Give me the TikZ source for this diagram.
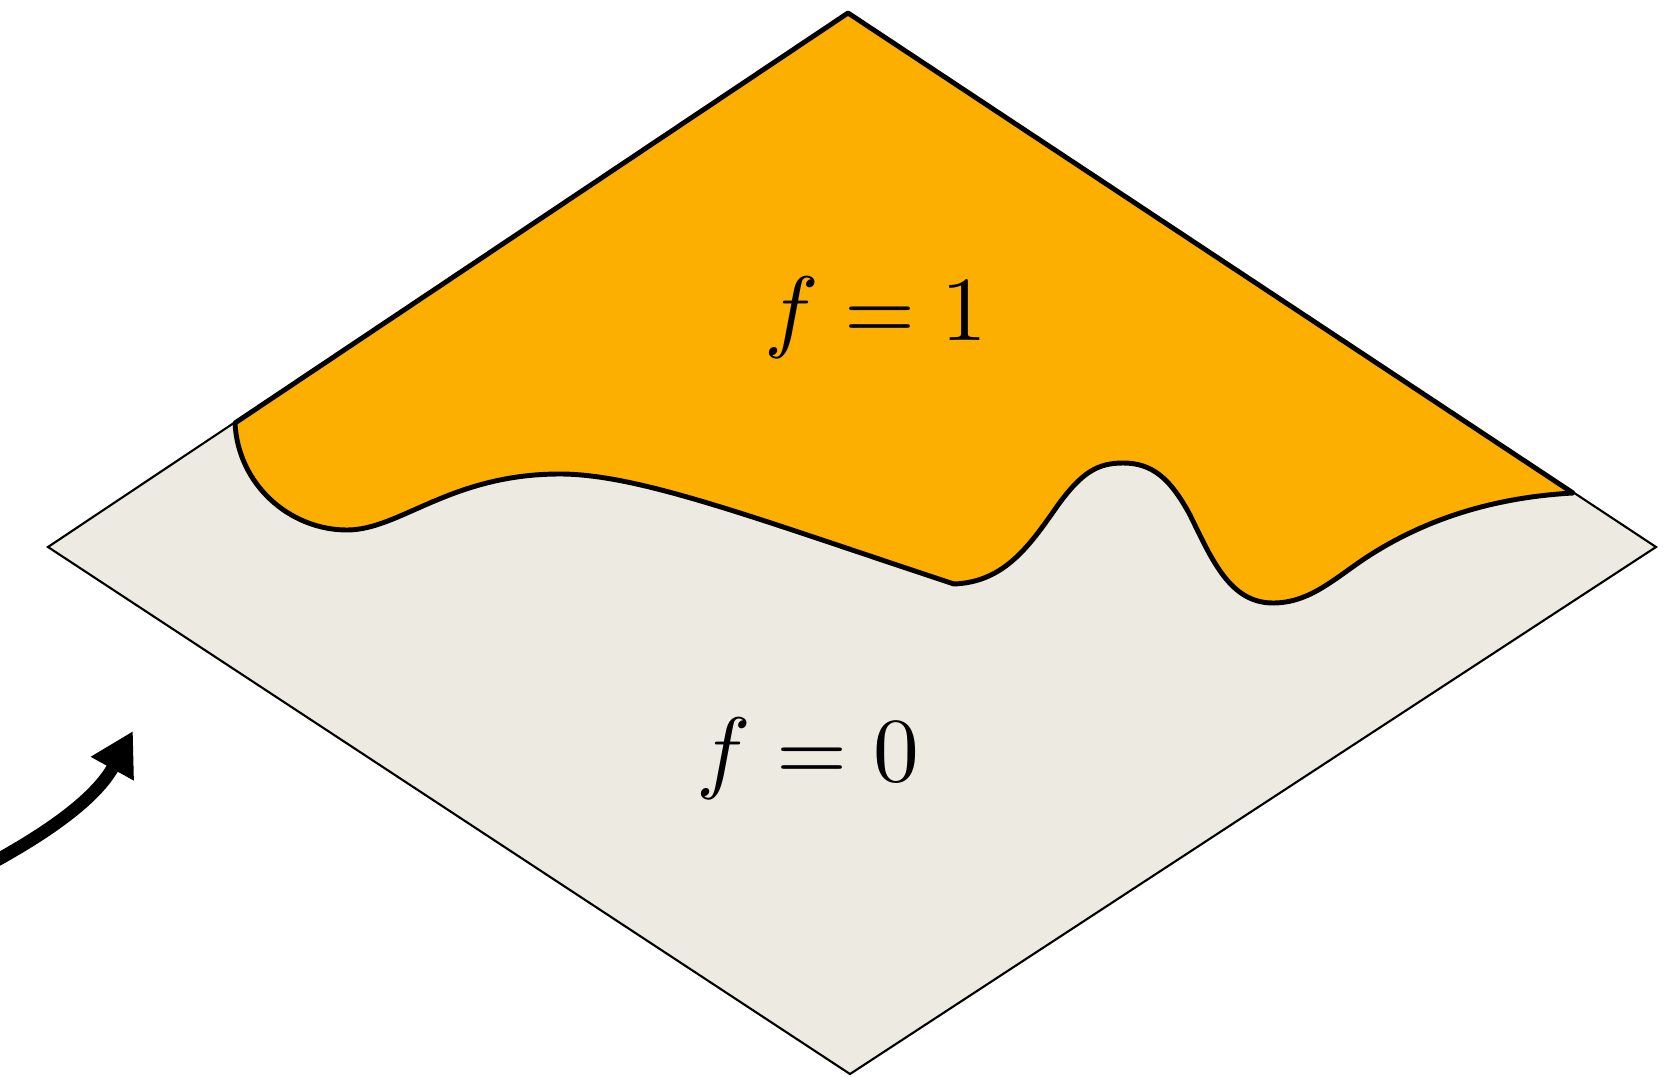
\documentclass[tikz,border=0pt]{standalone}
\usepackage{xcolor}
\usetikzlibrary{arrows.meta}

\definecolor{sheetgray}{RGB}{237,235,225}
\definecolor{regionorange}{RGB}{253,175,0}

\begin{document}
\begin{tikzpicture}[
    x=0.01cm, y=-0.01cm,
    sheet/.style={fill=sheetgray, draw=black, line width=0.6pt},
    region/.style={fill=regionorange, draw=black, line width=1.4pt, line join=round},
    valtext/.style={scale=2.6, inner sep=0pt},
    bendarrow/.style={line width=3.6pt, -{Triangle[length=4.3mm, width=4.6mm]}}
]
    \useasboundingbox (0,0) rectangle (1671,1076);

    % Corners of the sheet
    \coordinate (top) at (848,13);
    \coordinate (left) at (48,547);
    \coordinate (right) at (1656,547);
    \coordinate (bottom) at (850,1074);

    % Where the front meets the edges
    \coordinate (front_l) at (235,423);
    \coordinate (front_r) at (1573,493);

    % Sheet (f = 0)
    \draw[sheet] (top) -- (right) -- (bottom) -- (left) -- cycle;

    % Region (f = 1) with its front
    \draw[region] (front_l) -- (top) -- (front_r)
        .. controls (1500,497) and (1430,516) .. (1367,557)
        .. controls (1335,578) and (1310,603) .. (1273,603)
        .. controls (1230,603) and (1212,560) .. (1190,515)
        .. controls (1170,478) and (1152,463) .. (1123,463)
        .. controls (1098,463) and (1082,472) .. (1058,505)
        .. controls (1030,545) and (1005,582) .. (954,584)
        .. controls (760,520) and (640,474) .. (560,474)
        .. controls (450,474) and (400,530) .. (347,530)
        .. controls (290,530) and (238,485) .. (front_l) -- cycle;

    % Values
    \node[valtext] (fone) at (876,318) {$f=1$};
    \node[valtext] (fzero) at (808,759) {$f=0$};

    % Arrow
    \coordinate (arrow_start) at (-10,864);
    \coordinate (arrow_tip) at (133,731);
    \draw[bendarrow] (arrow_start) .. controls (45,834) and (95,800) .. (arrow_tip);

\end{tikzpicture}
\end{document}
